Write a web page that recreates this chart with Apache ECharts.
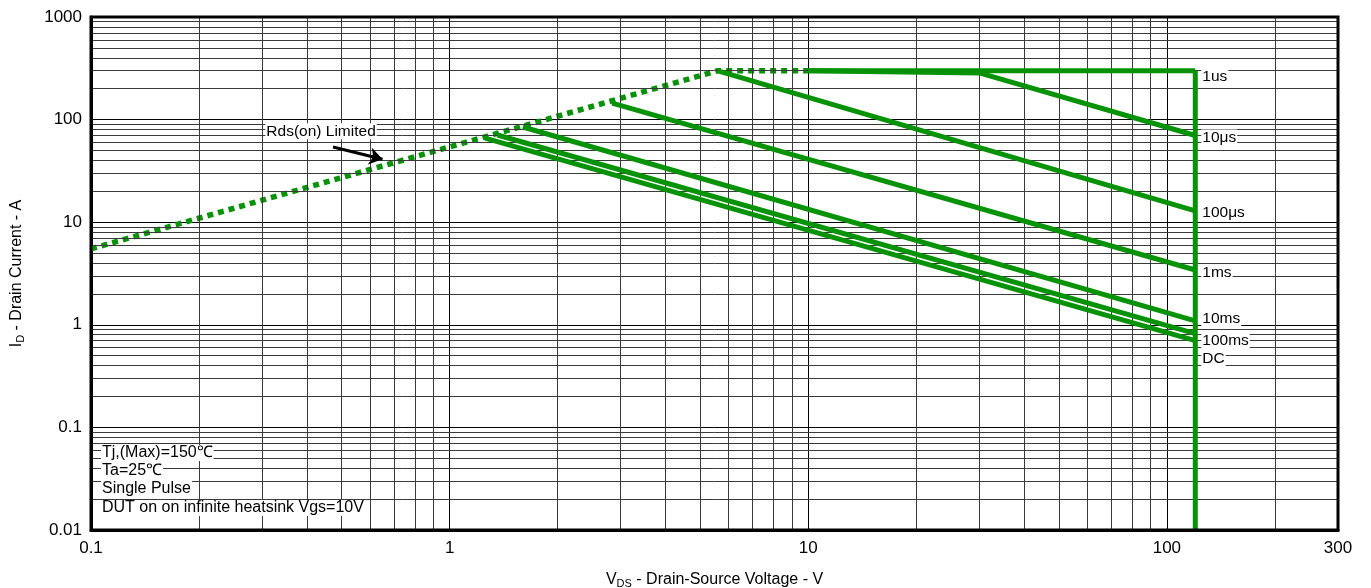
<!DOCTYPE html>
<html>
<head>
<meta charset="utf-8">
<script src="https://cdn.jsdelivr.net/npm/echarts@6/dist/echarts.min.js"></script>
<style>
html,body{margin:0;padding:0;background:#fff;}
#chart{width:1371px;height:588px;}
</style>
</head>
<body>
<div id="chart"></div>
<script>
// ---- data ----
const xTickLabels = ['0.1', '1', '10', '100', '300'];
const yTickLabels = ['0.01', '0.1', '1', '10', '100', '1000'];

const rdsLimit = [[0.1, 5.5], [5.6, 300], [10, 300]];
const curve1us = [[10, 300], [120, 300]];
const curve10us = [[10, 300], [30, 285], [120, 70]];
const curve100us = [[5.6, 298], [120, 12.9]];
const curve1ms = [[2.84, 145], [120, 3.42]];
const curve10ms = [[1.6, 84.7], [120, 1.09]];
const curve100ms = [[1.36, 70.8], [120, 0.82]];
const curveDC = [[1.256, 66], [120, 0.70]];
const vdsLimit = [[120, 300], [120, 0.01]];

const curveNames = ['1us', '10μs', '100μs', '1ms', '10ms', '100ms', 'DC'];
const notes = ['Tj,(Max)=150℃', 'Ta=25℃', 'Single Pulse', 'DUT on on infinite heatsink Vgs=10V'];

// minor grid values (2..9 per decade)
const xMinor = [];
[0.1, 1, 10, 100].forEach(d => { for (let k = 2; k <= 9; k++) { if (k * d < 300) xMinor.push(+(k * d).toPrecision(3)); } });
const yMinor = [];
[0.01, 0.1, 1, 10, 100].forEach(d => { for (let k = 2; k <= 9; k++) yMinor.push(+(k * d).toPrecision(3)); });

const GREEN = '#079207';
const FONT = 'Liberation Sans, Arial, Helvetica, sans-serif';

const chart = echarts.init(document.getElementById('chart'), null, {renderer: 'canvas'});

function curve(name, data, off) {
  return {
    name: name, type: 'line', data: data, symbol: 'none', z: 5,
    lineStyle: {color: GREEN, width: 5},
    endLabel: {
      show: true, formatter: name, color: '#000', fontSize: 15.5, fontFamily: FONT,
      backgroundColor: '#fff', padding: [0, 1], distance: 6, offset: [0, off]
    }
  };
}

const minorLine = (v, axis) => ({[axis]: v});

const option = {
  animation: false,
  backgroundColor: '#fff',
  grid: {left: 91, right: 33, top: 17, bottom: 58, outerBoundsMode: 'none', containLabel: false, show: true, borderColor: '#000', borderWidth: 3, backgroundColor: 'transparent', z: 10},
  xAxis: {
    type: 'log', min: 0.1, max: 300, logBase: 10,
    name: '{n|V}{sub|DS}{n| - Drain-Source Voltage - V}',
    nameLocation: 'middle', nameGap: 40,
    nameTextStyle: {rich: {n: {fontSize: 16, fontFamily: FONT, color: '#000'}, sub: {fontSize: 11, fontFamily: FONT, color: '#000', padding: [8, 0, 0, 0]}}},
    axisLine: {show: true, lineStyle: {color: '#000', width: 3}},
    axisTick: {show: false},
    axisLabel: {
      color: '#000', fontSize: 17, fontFamily: FONT, margin: 10,
      formatter: function (v) {
        const s = xTickLabels.find(t => Math.abs(Math.log10(+t) - Math.log10(v)) < 0.01);
        return s || '';
      }
    },
    splitLine: {show: true, lineStyle: {color: '#000', width: 1}}
  },
  yAxis: {
    type: 'log', min: 0.01, max: 1000, logBase: 10,
    name: '{n|I}{sub|D}{n| - Drain Current - A}',
    nameLocation: 'middle', nameGap: 65,
    nameTextStyle: {rich: {n: {fontSize: 16, fontFamily: FONT, color: '#000'}, sub: {fontSize: 11, fontFamily: FONT, color: '#000', padding: [8, 0, 0, 0]}}},
    axisLine: {show: true, lineStyle: {color: '#000', width: 3}},
    axisTick: {show: false},
    axisLabel: {
      color: '#000', fontSize: 17, fontFamily: FONT, margin: 9,
      formatter: function (v) {
        const s = yTickLabels.find(t => Math.abs(Math.log10(+t) - Math.log10(v)) < 0.01);
        return s || '';
      }
    },
    splitLine: {show: true, lineStyle: {color: '#000', width: 1}}
  },
  series: [
    {
      name: 'grid', type: 'line', data: [], symbol: 'none', silent: true, z: 1,
      markLine: {
        silent: true, symbol: 'none', animation: false,
        label: {show: false},
        lineStyle: {color: '#3a3a3a', width: 1, type: 'solid'},
        emphasis: {disabled: true},
        data: xMinor.map(v => minorLine(v, 'xAxis')).concat(yMinor.map(v => minorLine(v, 'yAxis')))
      }
    },
    {
      name: 'Rds(on) Limited', type: 'line', data: rdsLimit, symbol: 'none', z: 4,
      lineStyle: {color: GREEN, width: 5.5, type: [6, 5], cap: 'butt'},
      markLine: {
        silent: true, symbol: ['none', 'arrow'], symbolSize: 13, animation: false,
        lineStyle: {color: '#000', width: 3, type: 'solid'},
        label: {show: false},
        data: [[{coord: [0.473, 54]}, {coord: [0.65, 41]}]]
      },
      markPoint: {
        silent: true, symbol: 'rect', symbolSize: 0,
        label: {show: true, formatter: 'Rds(on) Limited', color: '#000', fontSize: 15.5, fontFamily: FONT, backgroundColor: '#fff', padding: [0, 1], position: 'inside'},
        data: [{coord: [0.438, 77]}]
      }
    },
    curve(curveNames[0], curve1us, 6),
    curve(curveNames[1], curve10us, 2),
    curve(curveNames[2], curve100us, 2),
    curve(curveNames[3], curve1ms, 3),
    curve(curveNames[4], curve10ms, -2),
    curve(curveNames[5], curve100ms, 7),
    curve(curveNames[6], curveDC, 18),
    {
      name: 'VDS limit', type: 'line', data: vdsLimit, symbol: 'none', z: 6,
      lineStyle: {color: GREEN, width: 5}
    }
  ],
  graphic: notes.map((t, i) => ({
    type: 'text', left: 101, top: [445, 463, 481, 500][i], z: 20,
    style: {text: t, fill: '#000', fontSize: 16, fontFamily: FONT, backgroundColor: '#fff', padding: [0, 1]}
  }))
};

chart.setOption(option);
</script>
</body>
</html>
